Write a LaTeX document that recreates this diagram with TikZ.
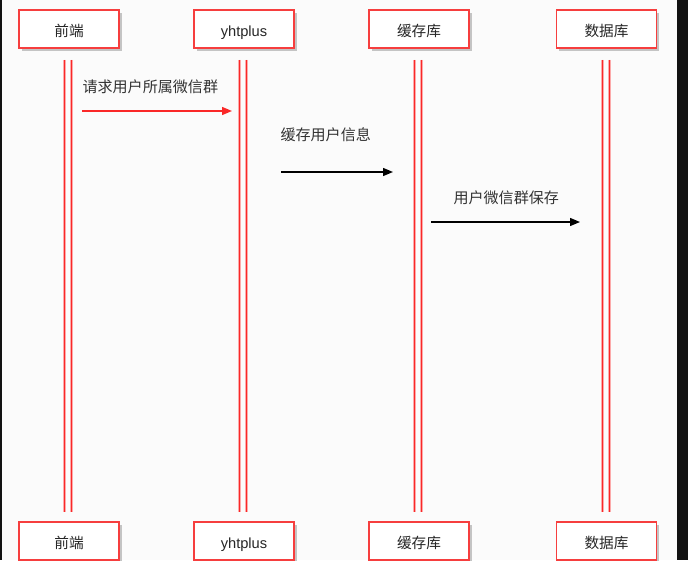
\documentclass[tikz,border=0pt]{standalone}
\usepackage{fontspec}
\setmainfont{Liberation Sans}
\newfontfamily\cjk{Noto Sans CJK SC}
\usetikzlibrary{arrows.meta,shadows}

\definecolor{boxred}{RGB}{246,62,62}
\definecolor{lifered}{RGB}{250,40,40}
\definecolor{halo}{RGB}{252,170,170}
\definecolor{shadowgray}{RGB}{196,196,196}

\tikzset{every picture/.style={line width=0.75pt}}
\tikzset{
  actorbox/.style={draw=boxred,line width=1.3pt,fill=white,minimum width=75pt,minimum height=28.5pt,
    inner sep=0pt,text height=11pt,text depth=0pt,font=\fontsize{11}{13}\selectfont,text=black!85,
    drop shadow={shadow xshift=2.2pt,shadow yshift=-2.2pt,fill=shadowgray,opacity=1}},
  lifeline/.style={draw=lifered,line width=1pt},
  lifehalo/.style={draw=halo,line width=2pt},
  msg/.style={line width=1pt,-{Triangle[length=7.5pt,width=6pt]}},
  msglabel/.style={anchor=west,inner sep=0pt,font=\fontsize{11.3}{13}\selectfont\cjk,text=black!80}
}

\begin{document}
\begin{tikzpicture}[x=0.75pt,y=0.75pt,yscale=-1,xscale=1]
        %background, sets size 688 x 560
        \fill [color={rgb, 255:red, 251; green, 251; blue, 251 }] (0,0) rectangle (688,560) ;
        \useasboundingbox (0,0) rectangle (688,560) ;
        %Shape: Rectangle (dark edges of the screenshot)
        \fill [color={rgb, 255:red, 18; green, 18; blue, 18 }] (677,0) rectangle (688,560) ;
        \fill [color={rgb, 255:red, 18; green, 18; blue, 18 }] (0,0) rectangle (1.5,560) ;

        %Lifelines
        \foreach \name/\cx in {front/68,yht/243,cache/418,db/606}{
          \coordinate (\name-top) at (\cx,60) ;
          \coordinate (\name-bot) at (\cx,512) ;
          \draw [lifehalo] ([xshift=-2.5]\name-top) -- ([xshift=-2.5]\name-bot) ;
          \draw [lifehalo] ([xshift=2.5]\name-top) -- ([xshift=2.5]\name-bot) ;
          \draw [lifeline] ([xshift=-2.5]\name-top) -- ([xshift=-2.5]\name-bot) ;
          \draw [lifeline] ([xshift=2.5]\name-top) -- ([xshift=2.5]\name-bot) ;
        }

        %Shape: Rectangle, top row
        \node [actorbox] (front) at (69,29) {\cjk 前端} ;
        \node [actorbox] (yht) at (244,29) {yhtplus} ;
        \node [actorbox] (cache) at (419,29) {\cjk 缓存库} ;
        \node [actorbox] (db) at (606.5,29) {\cjk 数据库} ;
        %Shape: Rectangle, bottom row
        \node [actorbox] (front2) at (69,541) {\cjk 前端} ;
        \node [actorbox] (yht2) at (244,541) {yhtplus} ;
        \node [actorbox] (cache2) at (419,541) {\cjk 缓存库} ;
        \node [actorbox] (db2) at (606.5,541) {\cjk 数据库} ;

        %Straight Lines, messages
        \coordinate (m1s) at (82,111) ;
        \coordinate (m1e) at (232,111) ;
        \coordinate (m2s) at (281,172) ;
        \coordinate (m2e) at (393,172) ;
        \coordinate (m3s) at (431,222) ;
        \coordinate (m3e) at (580,222) ;
        \draw [msg,color=lifered] (m1s) -- (m1e) ;
        \draw [msg,color=black] (m2s) -- (m2e) ;
        \draw [msg,color=black] (m3s) -- (m3e) ;

        % Text Node
        \node [msglabel] (l1) at (82,87) {请求用户所属微信群} ;
        % Text Node
        \node [msglabel] (l2) at (280,135) {缓存用户信息} ;
        % Text Node
        \node [msglabel] (l3) at (453,198) {用户微信群保存} ;

\end{tikzpicture}
\end{document}
